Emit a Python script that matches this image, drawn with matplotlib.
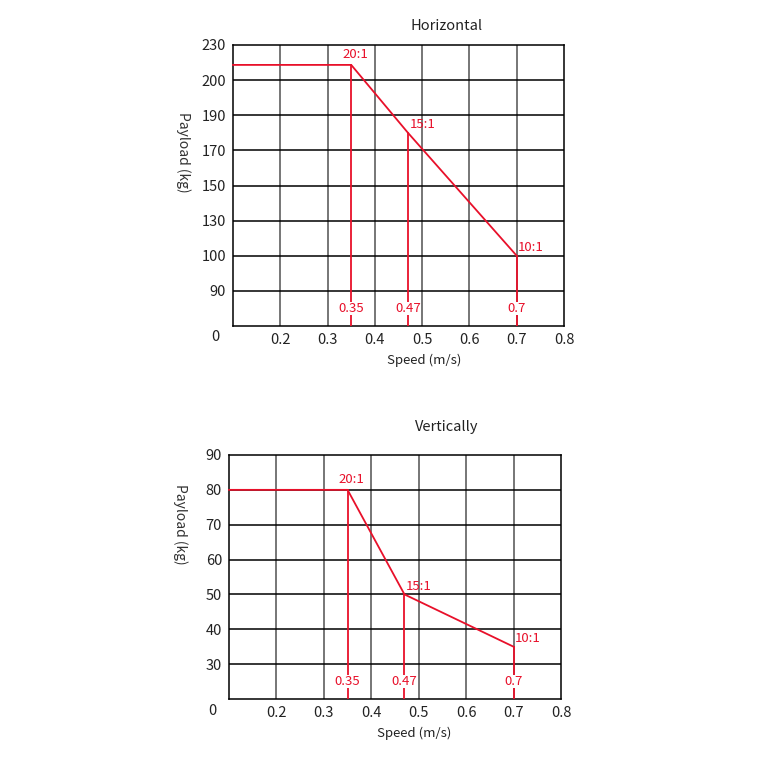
import numpy as np
import matplotlib
matplotlib.use('Agg')
import matplotlib.pyplot as plt

plt.rcParams['font.family'] = ['Noto Sans CJK SC', 'DejaVu Sans']

#---data--------------------------------
speed_ticks = [0, 0.2, 0.3, 0.4, 0.5, 0.6, 0.7, 0.8]
ratios = ['20:1', '15:1', '10:1']
speeds = [0.35, 0.47, 0.7]

h_title = 'Horizontal'
h_ticks = [0, 90, 100, 130, 150, 170, 190, 200, 230]
h_payload = [213, 180, 100]

v_title = 'Vertically'
v_ticks = [0, 30, 40, 50, 60, 70, 80, 90]
v_payload = [80, 50, 35]

red = '#e8102a'


def make_scale(ticks):
    # the ticks are spaced evenly on the chart, whatever their value
    idx = np.arange(len(ticks), dtype=float)
    fwd = lambda v: np.interp(v, ticks, idx)
    inv = lambda i: np.interp(i, idx, ticks)
    return fwd, inv


def draw_panel(ax, title, yticks, payload, title_xy, xlab_xy, ylab_xy, zero_xy, fig):
    ax.set_xscale('function', functions=make_scale(speed_ticks))
    ax.set_yscale('function', functions=make_scale(yticks))
    ax.set_xlim(0, speed_ticks[-1])
    ax.set_ylim(0, yticks[-1])

    ax.set_xticks(speed_ticks[1:])
    ax.set_xticklabels([str(t) for t in speed_ticks[1:]], fontsize=10.5, color='#222222')
    ax.set_yticks(yticks[1:])
    ax.set_yticklabels([str(t) for t in yticks[1:]], fontsize=10.5, color='#222222')
    ax.tick_params(length=0, pad=5)

    for t in speed_ticks[1:-1]:
        ax.axvline(t, color='#6b6b6b', lw=1.3, zorder=1)
    for t in yticks[1:-1]:
        ax.axhline(t, color='black', lw=1.1, zorder=1)
    for s in ax.spines.values():
        s.set_color('black')
        s.set_linewidth(1.1)

    # payload curve
    xs = [0] + speeds
    ys = [payload[0]] + payload
    ax.plot(xs, ys, color=red, lw=1.3, zorder=3, clip_on=False)
    for s, p in zip(speeds, payload):
        ax.plot([s, s], [0, p], color=red, lw=1.3, zorder=3)
        ax.annotate(str(s), xy=(s, 0), xytext=(0, 12.5), textcoords='offset points',
                    ha='center', va='center', fontsize=9.5, color=red, zorder=4,
                    bbox=dict(boxstyle='square,pad=0', fc='white', ec='none'))

    ax.annotate(ratios[0], xy=(speeds[0], payload[0]), xytext=(3, 3), textcoords='offset points',
                ha='center', va='bottom', fontsize=9.5, color=red)
    for r, s, p in zip(ratios[1:], speeds[1:], payload[1:]):
        ax.annotate(r, xy=(s, p), xytext=(1, 1), textcoords='offset points',
                    ha='left', va='bottom', fontsize=9.5, color=red)

    fig.text(title_xy[0] / 766, 1 - title_xy[1] / 766, title, ha='center', va='center',
             fontsize=10.5, color='#222222')
    fig.text(xlab_xy[0] / 766, 1 - xlab_xy[1] / 766, 'Speed (m/s)', ha='center', va='center',
             fontsize=9.5, color='#222222')
    fig.text(ylab_xy[0] / 766, 1 - ylab_xy[1] / 766, 'Payload (kg)', ha='center', va='center',
             rotation=-90, fontsize=10, color='#333333')
    fig.text(zero_xy[0] / 766, 1 - zero_xy[1] / 766, '0', ha='center', va='center',
             fontsize=10.5, color='#222222')


fig = plt.figure(figsize=(7.66, 7.66), dpi=100)

ax1 = fig.add_axes([233 / 766, 1 - 326 / 766, 331 / 766, 281 / 766])
draw_panel(ax1, h_title, h_ticks, h_payload, (447, 26), (424, 360), (183, 152), (215, 337), fig)

ax2 = fig.add_axes([229 / 766, 1 - 699 / 766, 332 / 766, 244 / 766])
draw_panel(ax2, v_title, v_ticks, v_payload, (447, 427), (414, 733), (180, 524), (212, 711), fig)

fig.savefig('out.png', dpi=100, facecolor='white')
